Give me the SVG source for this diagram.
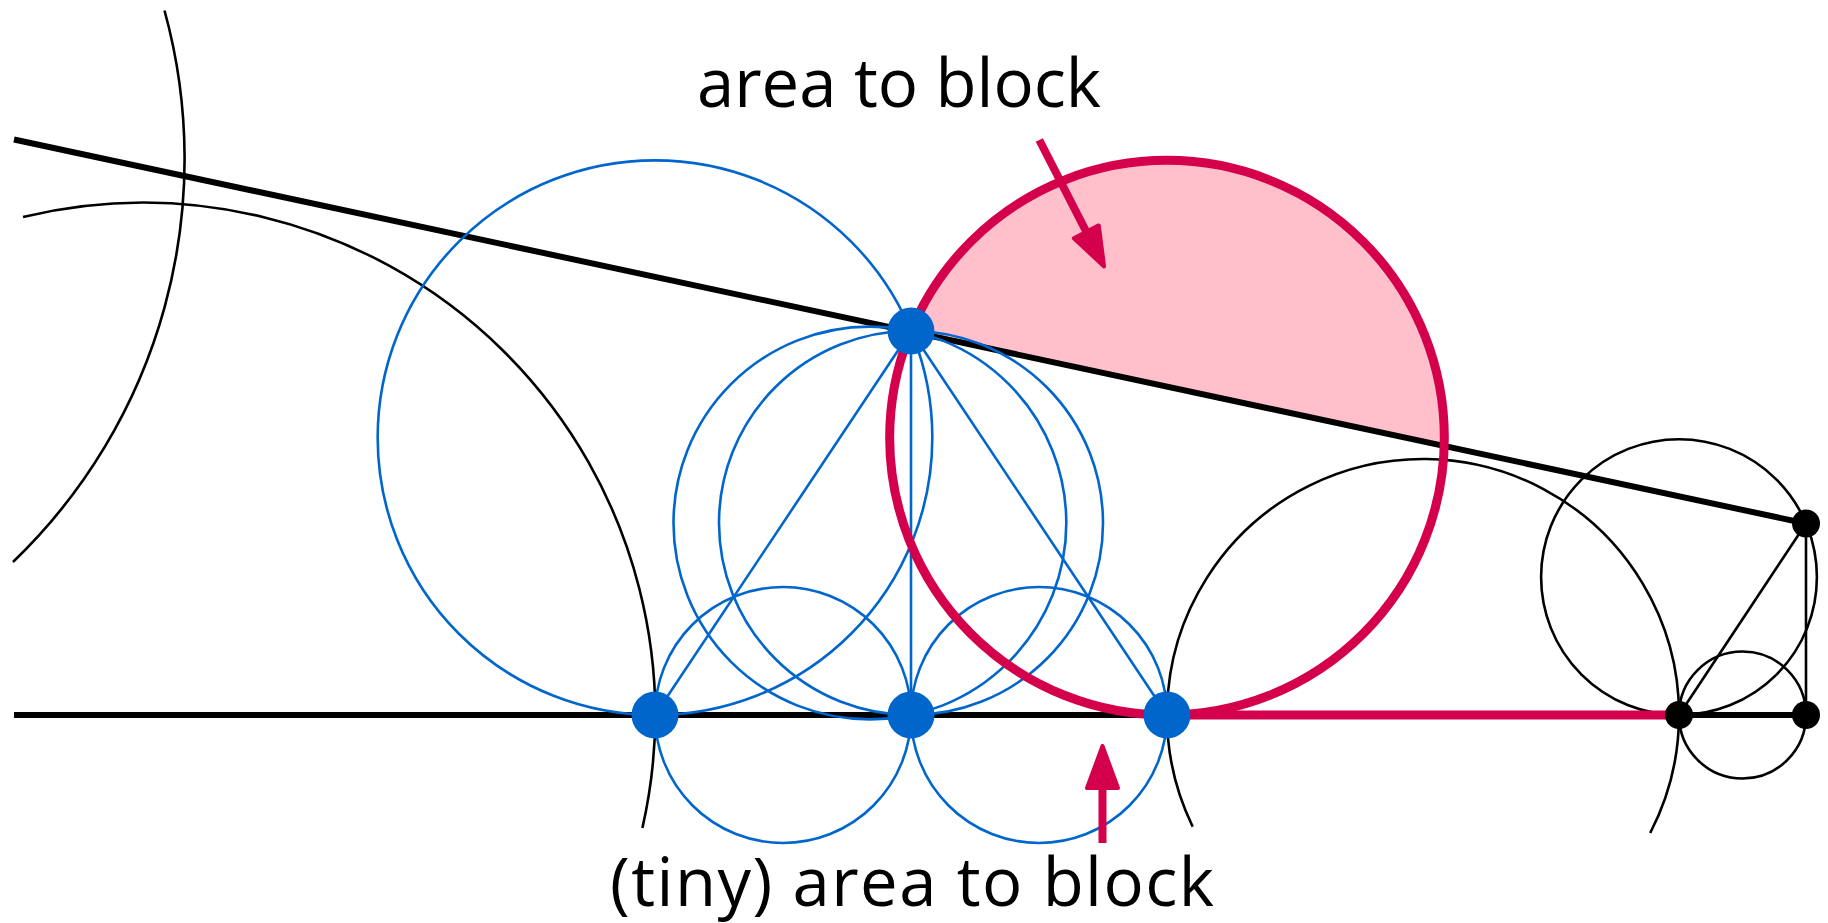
<svg xmlns="http://www.w3.org/2000/svg" width="1828" height="923" viewBox="0 0 1828 923">
<style>
.thick{stroke:#000;stroke-width:6;fill:none}
.thin{stroke:#000;stroke-width:2.6;fill:none}
.blue{stroke:#0066CC;stroke-width:2.6;fill:none}
.red{stroke:#D4004B;stroke-width:9;fill:none}
.arrowshaft{stroke:#D4004B;stroke-width:8;fill:none}
.arrowhead{fill:#D4004B;stroke:#D4004B;stroke-width:4;stroke-linejoin:round}
.bdot{fill:#0066CC}
.kdot{fill:#000}
.lbl{font-family:"Open Sans","Liberation Sans",sans-serif;font-size:67px;fill:#000}
</style>
<rect width="1828" height="923" fill="#fff"/>
<g id="blocked-area">
<path d="M 911 331 L 1444.2 445.3 A 277.33 277.33 0 0 0 911 331 Z" fill="#FFC0CB"/>
</g>
<g id="black-construction">
<line class="thick" x1="14" y1="715" x2="1806" y2="715"/>
<line class="thick" x1="14" y1="139.5" x2="1806" y2="523.5"/>
<path class="thin" d="M 23 217 A 512 512 0 0 1 642.4 828"/>
<path class="thin" d="M 164.5 10.5 A 559 559 0 0 1 13 562"/>
<path class="thin" d="M 1192.7 826.7 A 256 256 0 1 1 1650.2 833"/>
<line class="thin" x1="1806" y1="523.5" x2="1806" y2="715"/>
<line class="thin" x1="1806" y1="523.5" x2="1679" y2="715"/>
<circle class="thin" cx="1742.5" cy="715" r="63.5"/>
<circle class="thin" cx="1679" cy="577.1" r="137.9"/>
</g>
<g id="blue-construction">
<circle class="blue" cx="655" cy="437.67" r="277.33"/>
<circle class="blue" cx="869.9" cy="523" r="196.4"/>
<circle class="blue" cx="911" cy="523" r="192"/>
<circle class="blue" cx="783" cy="715" r="128"/>
<circle class="blue" cx="1039" cy="715" r="128"/>
<line class="blue" x1="911" y1="331" x2="655" y2="715"/>
<line class="blue" x1="911" y1="331" x2="911" y2="715"/>
<line class="blue" x1="911" y1="331" x2="1167" y2="715"/>
</g>
<g id="red-boundary">
<circle class="red" cx="1167" cy="437.67" r="277.33"/>
<line class="red" x1="1167" y1="715" x2="1679" y2="715"/>
</g>
<g id="connectors">
<line class="arrowshaft" x1="1039.3" y1="140" x2="1086.3" y2="231.8"/>
<polygon class="arrowhead" points="1104.1,266.5 1098.8,225.4 1073.8,238.2"/>
<line class="arrowshaft" x1="1102.5" y1="843" x2="1102.5" y2="789"/>
<polygon class="arrowhead" points="1102.5,746 1087,788 1118,788"/>
</g>
<g id="points">
<circle class="bdot" cx="655" cy="715" r="23.5"/>
<circle class="bdot" cx="911" cy="715" r="23.5"/>
<circle class="bdot" cx="1167" cy="715" r="23.5"/>
<circle class="bdot" cx="911" cy="331" r="23.5"/>
<circle class="kdot" cx="1679" cy="715" r="14"/>
<circle class="kdot" cx="1806" cy="715" r="14"/>
<circle class="kdot" cx="1806" cy="523.5" r="14"/>
</g>
<g id="label-top">
<text class="lbl" x="697" y="107" textLength="404" lengthAdjust="spacing">area to block</text>
</g>
<g id="label-bottom">
<text class="lbl" x="610" y="906" textLength="604" lengthAdjust="spacing">(tiny) area to block</text>
</g>
</svg>
